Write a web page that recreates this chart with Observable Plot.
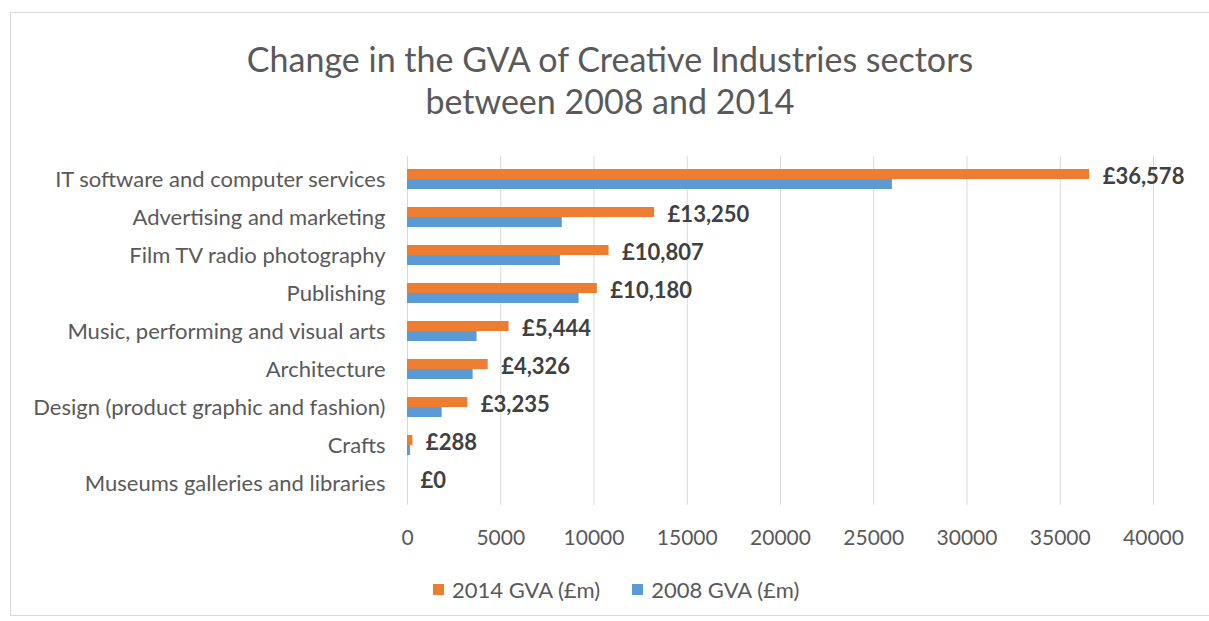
<!DOCTYPE html>
<html>
<head>
<meta charset="utf-8">
<script src="https://cdn.jsdelivr.net/npm/d3@7"></script>
<script src="https://cdn.jsdelivr.net/npm/@observablehq/plot@0.6"></script>
<style>
  html, body { margin: 0; padding: 0; background: #fff; }
  body { width: 1209px; height: 621px; overflow: hidden; position: relative; font-family: Lato, "Open Sans", sans-serif; }
  #box { position: absolute; left: 10px; top: 12px; width: 1210px; height: 604px; border: 1px solid #d9d9d9; box-sizing: border-box; }
  #title { position: absolute; left: 0; top: 38px; width: 1220px; text-align: center; font-size: 34px; line-height: 42px; color: #595959; }
  #chart { position: absolute; left: 11px; top: 130px; }
  #legend { position: absolute; left: 433px; top: 576px; display: flex; gap: 32px; font-size: 22px; color: #595959; }
  #legend span.item { display: flex; align-items: center; }
  #legend span.sw { display: inline-block; width: 11px; height: 11px; margin-right: 8px; }
</style>
</head>
<body>
<div id="box"></div>
<div id="title">Change in the GVA of Creative Industries sectors<br>between 2008 and 2014</div>
<div id="chart"></div>
<div id="legend"></div>
<script>
const categories = [
  "IT software and computer services",
  "Advertising and marketing",
  "Film TV radio photography",
  "Publishing",
  "Music, performing and visual arts",
  "Architecture",
  "Design (product graphic and fashion)",
  "Crafts",
  "Museums galleries and libraries"
];
const gva2014 = [36578, 13250, 10807, 10180, 5444, 4326, 3235, 288, 0];
const gva2008 = [26000, 8300, 8200, 9200, 3730, 3520, 1860, 160, 0];
const seriesNames = ["2014 GVA (£m)", "2008 GVA (£m)"];
const seriesColors = ["#ED7D31", "#5B9BD5"];
const xTicks = [0, 5000, 10000, 15000, 20000, 25000, 30000, 35000, 40000];

const rows2014 = categories.map((c, i) => ({category: c, value: gva2014[i], series: seriesNames[0]}));
const rows2008 = categories.map((c, i) => ({category: c, value: gva2008[i], series: seriesNames[1]}));

const chart = Plot.plot({
  width: 1198,
  height: 420,
  marginLeft: 396,
  marginRight: 56,
  marginTop: 26,
  marginBottom: 45,
  style: {fontFamily: "Lato, 'Open Sans', sans-serif", color: "#595959", background: "transparent"},
  x: {domain: [0, 40000]},
  y: {domain: categories, paddingInner: 0.48, paddingOuter: 0.29},
  color: {domain: seriesNames, range: seriesColors},
  marks: [
    Plot.gridX({ticks: xTicks, stroke: "#d9d9d9", strokeOpacity: 1}),
    Plot.barX(rows2014, {x: "value", y: "category", fill: "series", insetBottom: 10}),
    Plot.barX(rows2008, {x: "value", y: "category", fill: "series", insetTop: 10}),
    Plot.text(rows2014, {x: "value", y: "category", text: d => "£" + d3.format(",")(d.value), dx: 13, dy: -3, textAnchor: "start", fontWeight: "bold", fontSize: 22, fill: "#404040"}),
    Plot.axisY({tickSize: 0, tickPadding: 22, fontSize: 22, label: null, fill: "#595959"}),
    Plot.axisX({ticks: xTicks, tickSize: 0, tickPadding: 25, fontSize: 21, label: null, tickFormat: d3.format("d"), fill: "#595959"})
  ]
});
document.getElementById("chart").appendChild(chart);

const legend = document.getElementById("legend");
seriesNames.forEach((name, i) => {
  const item = document.createElement("span");
  item.className = "item";
  const sw = document.createElement("span");
  sw.className = "sw";
  sw.style.background = seriesColors[i];
  item.appendChild(sw);
  item.appendChild(document.createTextNode(name));
  legend.appendChild(item);
});
</script>
</body>
</html>
